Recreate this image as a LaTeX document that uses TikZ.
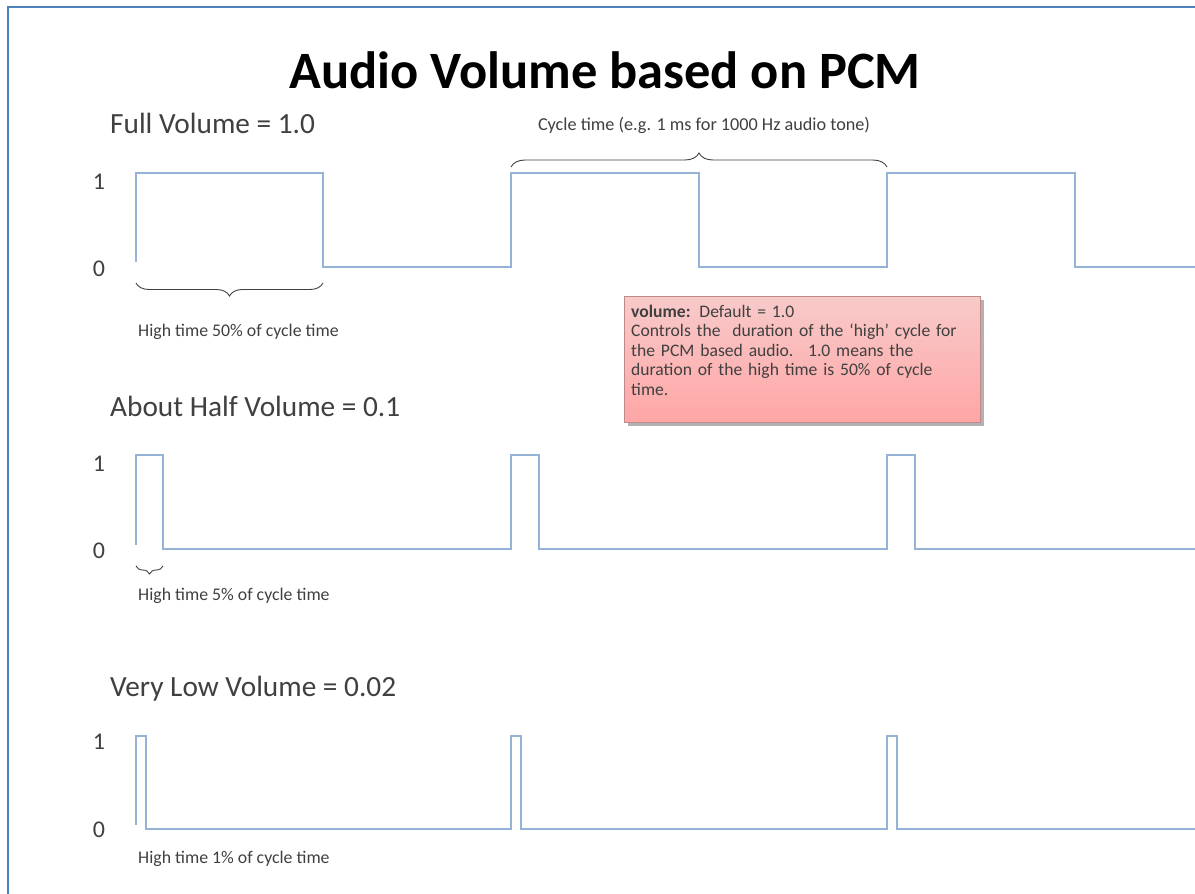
\documentclass[tikz,border=0pt]{standalone}
\usepackage{fontspec}
\setmainfont{Carlito}
\usetikzlibrary{decorations.pathreplacing}
\definecolor{wave}{HTML}{95B3D7}
\definecolor{frame}{HTML}{4F81BD}
\definecolor{txt}{HTML}{404040}
\definecolor{boxtop}{HTML}{F8CACA}
\definecolor{boxbot}{HTML}{FFA6A6}
\definecolor{boxedge}{HTML}{C08A8A}
\tikzset{
  wavel/.style={draw=wave, line width=1.6pt, line join=miter},
  bracel/.style={draw=black!75, line width=0.9pt, decorate},
  rowlabel/.style={anchor=base west, inner sep=0pt, text=txt, font=\fontsize{29.3}{33}\selectfont},
  level/.style={anchor=base, inner sep=0pt, text=txt, font=\fontsize{24}{28}\selectfont},
  smalltext/.style={anchor=base west, inner sep=0pt, text=txt, font=\fontsize{17.8}{20}\selectfont},
}
\begin{document}
\begin{tikzpicture}[x=1pt,y=-1pt]
\useasboundingbox (0,0) rectangle (1195,894);
\fill[white] (0,0) rectangle (1195,894);
% frame
\draw[frame, line width=2pt] (8,894) -- (8,7) -- (1195,7);
% title
\node (title) [anchor=base, inner sep=0pt, font=\fontsize{52.5}{56}\selectfont\bfseries] at (605,88) {Audio Volume based on PCM};
% row titles
\node (r1) [rowlabel] at (110,133) {Full Volume = 1.0};
\node (r2) [rowlabel] at (110,416) {About Half Volume = 0.1};
\node (r3) [rowlabel] at (110,696) {Very Low Volume = 0.02};
% level labels
\node (one1) [level] at (99,189) {1};
\node (zero1) [level] at (99,276) {0};
\node (one2) [level] at (99,471) {1};
\node (zero2) [level] at (99,558) {0};
\node (one3) [level] at (99,749) {1};
\node (zero3) [level] at (99,837) {0};
% waveform 1
\draw[wavel] (136,262) -- (136,173) -- (323,173) -- (323,267) -- (511,267) -- (511,173) -- (699,173) -- (699,267) -- (887,267) -- (887,173) -- (1075,173) -- (1075,267) -- (1195,267);
% waveform 2
\draw[wavel] (136,545) -- (136,455) -- (163,455) -- (163,549) -- (511,549) -- (511,455) -- (539,455) -- (539,549) -- (887,549) -- (887,455) -- (915,455) -- (915,549) -- (1195,549);
% waveform 3
\draw[wavel] (136,825) -- (136,736) -- (146,736) -- (146,829) -- (511,829) -- (511,736) -- (521,736) -- (521,829) -- (887,829) -- (887,736) -- (897,736) -- (897,829) -- (1195,829);
% braces
\coordinate (c1a) at (511,167);
\coordinate (c1b) at (887,167);
\draw[bracel, decoration={brace, amplitude=14pt, aspect=0.5}] (c1a) -- (c1b);
\node (cyc) [anchor=base, inner sep=0pt, text=txt, font=\fontsize{18.2}{20}\selectfont] at (704,130) {Cycle time (e.g. 1 ms for 1000 Hz audio tone)};
\coordinate (h1a) at (136,283);
\coordinate (h1b) at (323,283);
\draw[bracel, decoration={brace, mirror, amplitude=13pt}] (h1a) -- (h1b);
\node (ht1) [smalltext] at (138,336) {High time 50\% of cycle time};
\coordinate (h2a) at (136,566);
\coordinate (h2b) at (163,566);
\draw[bracel, decoration={brace, mirror, amplitude=8pt}] (h2a) -- (h2b);
\node (ht2) [smalltext] at (138,600) {High time 5\% of cycle time};
\node (ht3) [smalltext] at (138,863) {High time 1\% of cycle time};
% info box
\fill[black!30] (628,300) rectangle (984,426);
\shade[top color=boxtop, bottom color=boxbot] (624,296) rectangle (980,422);
\draw[boxedge, line width=1pt] (624,296) rectangle (980,422);
\node (info) [anchor=north west, inner sep=0pt, text width=345pt, align=left, text=txt, font=\fontsize{17.6}{19.4}\selectfont] at (631,305)
  {\textbf{volume:} Default = 1.0\\
   Controls the~ duration of the ‘high’ cycle for\\
   the PCM based audio.~ 1.0 means the\\
   duration of the high time is 50\% of cycle\\
   time.};
\end{tikzpicture}
\end{document}
